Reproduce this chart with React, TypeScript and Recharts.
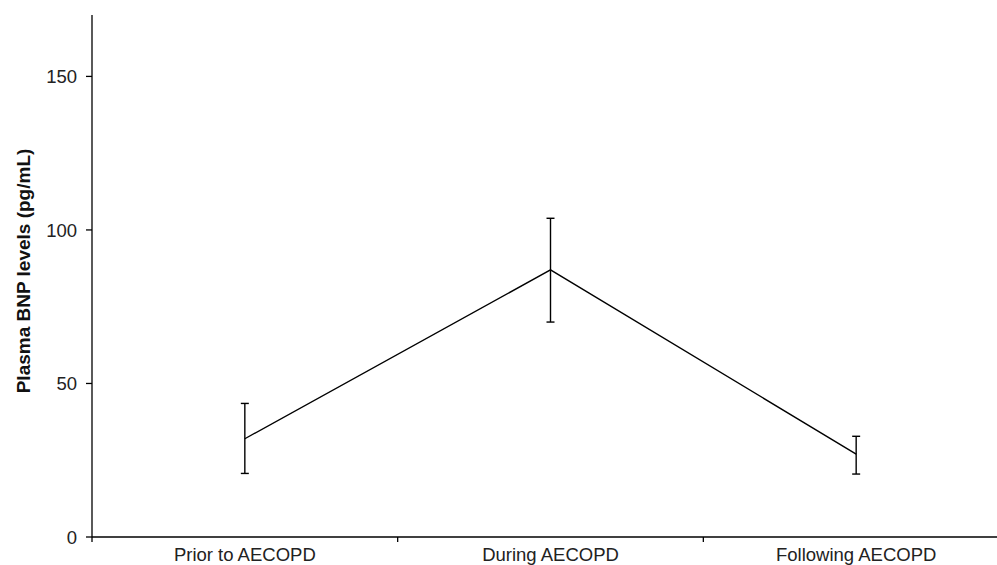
import { LineChart, Line, XAxis, YAxis, ErrorBar, Label } from 'recharts';

// Plasma BNP across the three phases of an exacerbation
const periods = ['Prior to AECOPD', 'During AECOPD', 'Following AECOPD'];
const positions = [0.5, 1.5, 2.5];
const meanBNP = [32, 87, 27];
const lowerBNP = [20.7, 70, 20.5];
const upperBNP = [43.5, 103.8, 32.8];
const yTicks = [0, 50, 100, 150];
const boundaryTicks = [0, 1, 2];

const FONT = '"Liberation Sans", Arial, sans-serif';
const INK = '#000';

const chartData = positions.map((pos, i) => ({
  pos,
  bnp: meanBNP[i],
  err: [meanBNP[i] - lowerBNP[i], upperBNP[i] - meanBNP[i]],
}));

const PeriodTick = (props: any) => {
  const { x, y, payload } = props;
  const idx = positions.indexOf(payload.value);
  if (idx >= 0) {
    return (
      <text x={x} y={y + 24} textAnchor="middle" fontSize={18.5} fill="#222" fontFamily={FONT}>
        {periods[idx]}
      </text>
    );
  }
  if (boundaryTicks.includes(payload.value)) {
    return <line x1={x} y1={y} x2={x} y2={y + 5} stroke={INK} strokeWidth={1.3} />;
  }
  return null;
};

const YTitle = (props: any) => {
  const { viewBox } = props;
  const cx = viewBox.x + 23;
  const cy = viewBox.y + viewBox.height / 2 - 5;
  return (
    <text
      x={cx}
      y={cy}
      transform={`rotate(-90 ${cx} ${cy})`}
      textAnchor="middle"
      dominantBaseline="central"
      fontSize={19}
      fontWeight="bold"
      fill="#111"
      fontFamily={FONT}
    >
      Plasma BNP levels (pg/mL)
    </text>
  );
};

export default function App() {
  return (
    <div style={{ position: 'absolute', left: 0, top: 0, width: 997, height: 565, overflow: 'hidden', background: '#fff' }}>
      <LineChart
        width={1020}
        height={565}
        data={chartData}
        margin={{ top: 15, right: 11, left: 0, bottom: 0 }}
      >
        <XAxis
          dataKey="pos"
          type="number"
          domain={[0, 3]}
          ticks={[0, 0.5, 1, 1.5, 2, 2.5]}
          interval={0}
          tickLine={false}
          tickSize={0}
          tickMargin={0}
          tick={<PeriodTick />}
          axisLine={{ stroke: INK, strokeWidth: 1.3 }}
          height={28}
          allowDataOverflow
        />
        <YAxis
          type="number"
          domain={[0, 170]}
          ticks={yTicks}
          interval={0}
          width={92}
          tickSize={6}
          tickMargin={9}
          tick={{ fill: '#222', fontSize: 18.5, fontFamily: FONT }}
          tickLine={{ stroke: INK, strokeWidth: 1.3 }}
          axisLine={{ stroke: INK, strokeWidth: 1.3 }}
        >
          <Label content={<YTitle />} />
        </YAxis>
        <Line
          type="linear"
          dataKey="bnp"
          stroke={INK}
          strokeWidth={1.4}
          dot={false}
          activeDot={false}
          isAnimationActive={false}
        >
          <ErrorBar dataKey="err" width={4} stroke={INK} strokeWidth={1.4} direction="y" />
        </Line>
      </LineChart>
    </div>
  );
}
